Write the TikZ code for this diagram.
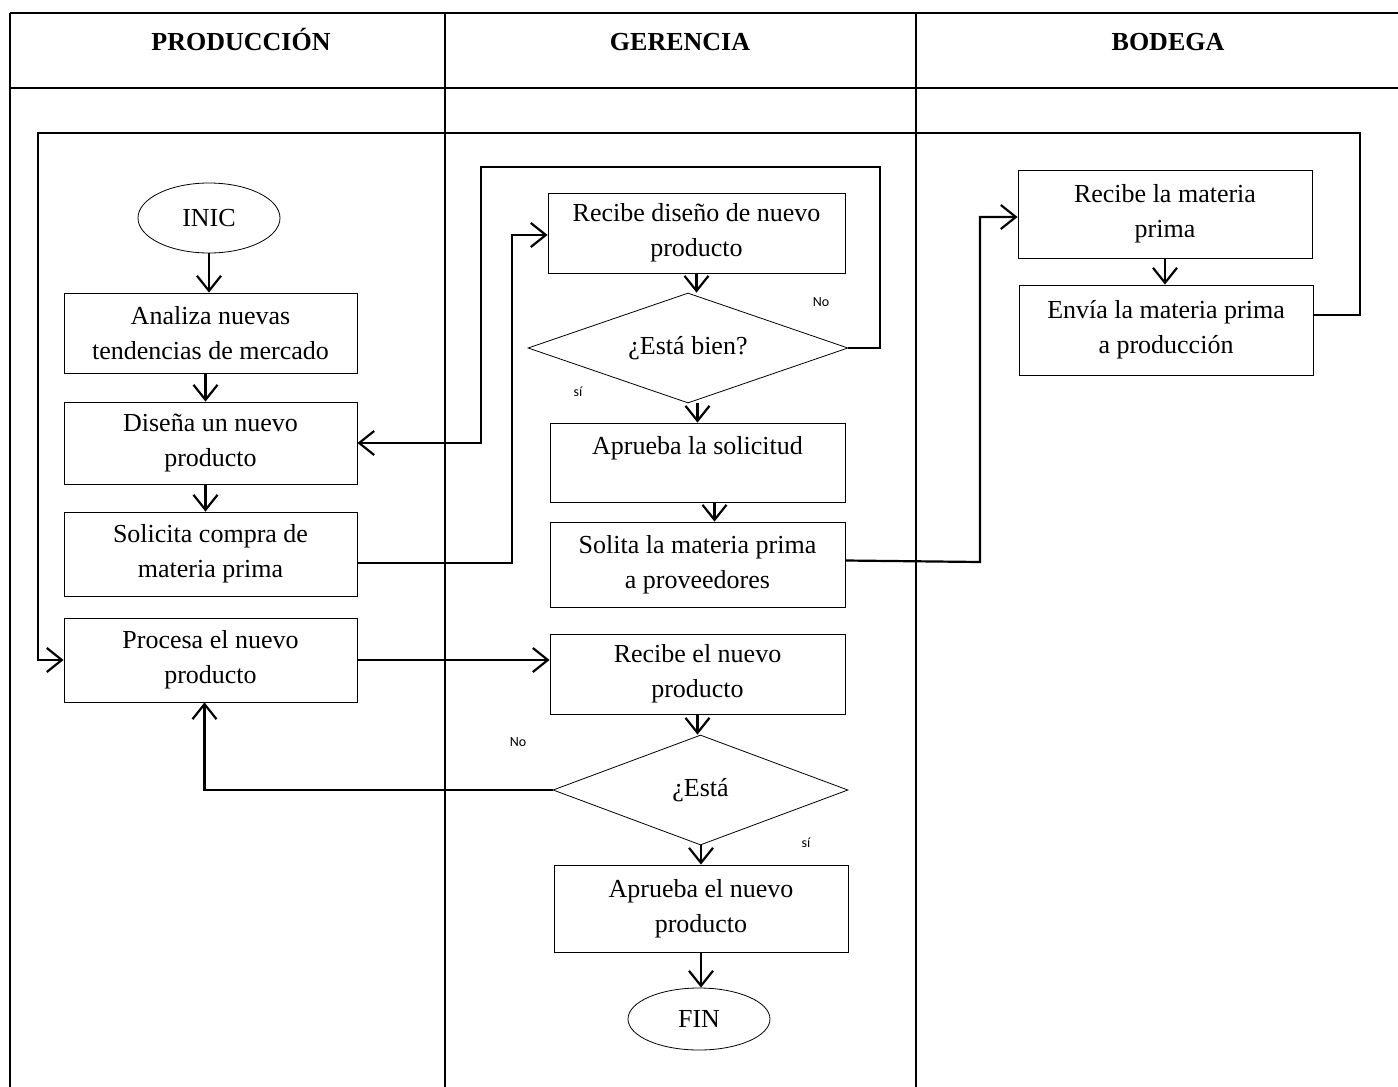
\documentclass[tikz,border=0pt]{standalone}
\usepackage{fontspec}
\setmainfont{Liberation Serif}
\newfontfamily\lblfont{Carlito}
\usetikzlibrary{arrows.meta,shapes.geometric}
\begin{document}
\begin{tikzpicture}[x=1pt,y=-1pt,
 proc/.style={draw,line width=0.8pt,align=center,font=\fontsize{26}{35}\selectfont,inner sep=0pt},
 term/.style={draw,ellipse,line width=0.8pt,font=\fontsize{26}{30}\selectfont,inner sep=0pt},
 deci/.style={draw,diamond,aspect=2.9,line width=0.8pt,font=\fontsize{26}{30}\selectfont,inner sep=0pt},
 arr/.style={line width=2.2pt,-{Straight Barb[length=15pt,width=24pt]}},
 lane/.style={line width=1.6pt},
 head/.style={font=\fontsize{26}{30}\selectfont\bfseries,anchor=base},
 yn/.style={font=\lblfont\fontsize{14}{16}\selectfont}
]
\useasboundingbox (0,0) rectangle (1398,1087);
% swimlane table
\draw[lane] (10,13) -- (1398,13);
\draw[lane] (10,88) -- (1398,88);
\draw[lane] (10,13) -- (10,1087);
\draw[lane] (445,13) -- (445,1087);
\draw[lane] (916,13) -- (916,1087);
\node[head] (h1) at (241,50) {PRODUCCIÓN};
\node[head] (h2) at (680,50) {GERENCIA};
\node[head] (h3) at (1168,50) {BODEGA};
% Produccion
\node[term,minimum width=142pt,minimum height=70pt] (inic) at (209,218) {INIC};
\node[proc,minimum width=293pt,minimum height=80pt] (ana) at (210.5,333) {Analiza nuevas\\tendencias de mercado};
\node[proc,minimum width=293pt,minimum height=82pt] (dis) at (210.5,443) {Diseña un nuevo\\producto};
\node[proc,minimum width=293pt,minimum height=84pt] (sol) at (210.5,554) {Solicita compra de\\materia prima};
\node[proc,minimum width=293pt,minimum height=84pt] (pro) at (210.5,660) {Procesa el nuevo\\producto};
% Gerencia
\node[proc,minimum width=297pt,minimum height=80pt] (rdis) at (696.5,233) {Recibe diseño de nuevo\\producto};
\node[deci,minimum width=320pt,minimum height=110pt] (d1) at (688,348) {¿Está bien?};
\node[proc,minimum width=295pt,minimum height=79pt] (apr) at (697.5,462.5) {Aprueba la solicitud\\~};
\node[proc,minimum width=295pt,minimum height=85pt] (slt) at (697.5,564.5) {Solita la materia prima\\a proveedores};
\node[proc,minimum width=295pt,minimum height=80pt] (rnp) at (697.5,674) {Recibe el nuevo\\producto};
\node[deci,minimum width=295pt,minimum height=110pt] (d2) at (700.5,790) {¿Está};
\node[proc,minimum width=294pt,minimum height=87pt] (apn) at (701,908.5) {Aprueba el nuevo\\producto};
\node[term,minimum width=142pt,minimum height=62pt] (fin) at (699,1019) {FIN};
% Bodega
\node[proc,minimum width=294pt,minimum height=88pt] (rmp) at (1165,214) {Recibe la materia\\prima};
\node[proc,minimum width=294pt,minimum height=90pt] (env) at (1166,330) {Envía la materia prima\\a producción};
% labels
\node[yn] (no1) at (821,302) {No};
\node[yn] (si1) at (578,392) {sí};
\node[yn] (no2) at (518,742) {No};
\node[yn] (si2) at (806,843) {sí};
% connectors
\draw[arr] (inic.south) -- (inic.south |- ana.north);
\draw[arr] ([xshift=-5pt]ana.south) -- ([xshift=-5pt]dis.north);
\draw[arr] ([xshift=-5pt]dis.south) -- ([xshift=-5pt]sol.north);
\draw[arr] ([yshift=-9pt]sol.east) -- (512,563) |- ([yshift=-2pt]rdis.west);
\draw[arr] (rdis.south) -- (rdis.south |- d1.north);
\draw[arr] (d1.east) -- (880,348) |- (481,167) |- (dis.east);
\draw[arr] (apr.north |- d1.south) -- (apr.north);
\draw[arr] ([xshift=17pt]apr.south) -- ([xshift=17pt]slt.north);
\draw[arr] ([yshift=4pt]slt.east) -- (980,562) |- ([yshift=-3pt]rmp.west);
\draw[arr] (rmp.south) -- (rmp.south |- env.north);
\draw[arr] ([yshift=15pt]env.east) -- (1360,315) -- (1360,133) -- (38,133) |- (pro.west);
\draw[arr] (pro.east) -- (rnp.west |- pro.east);
\draw[arr] (rnp.south) -- (rnp.south |- d2.north);
\draw[arr] (d2.west) -| ([xshift=-6pt]pro.south);
\draw[arr] (apn.north |- d2.south) -- (apn.north);
\draw[arr] (apn.south) -- (apn.south |- fin.north);
\end{tikzpicture}
\end{document}
